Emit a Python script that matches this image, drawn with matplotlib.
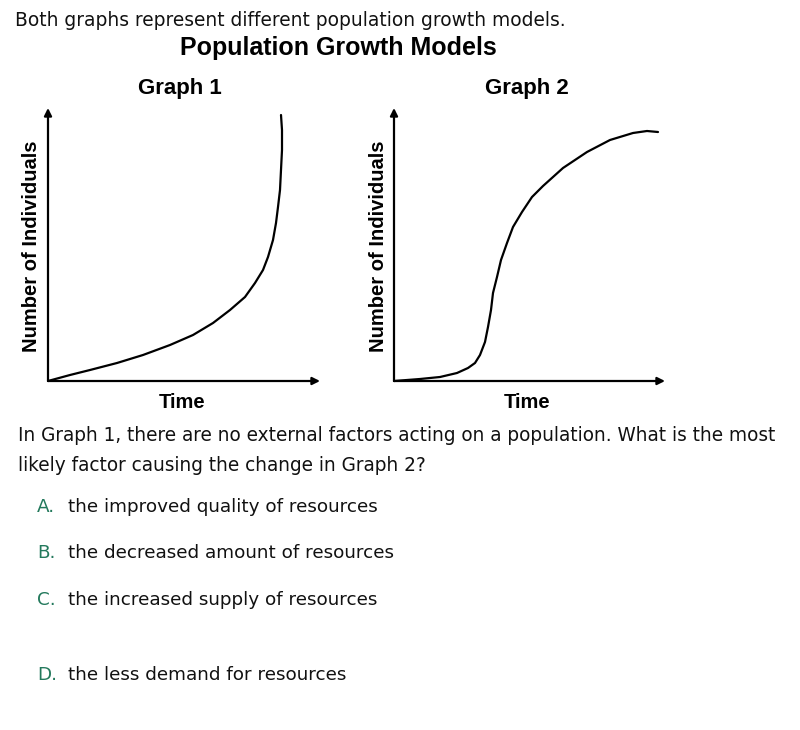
import matplotlib
matplotlib.use("Agg")
import matplotlib.pyplot as plt

# values (time, number of individuals), arbitrary units
g1_time = [0, 22, 42, 69, 95, 122, 145, 165, 182, 197, 207, 215, 220, 225, 228,
           230, 232, 233, 234, 234, 233]
g1_count = [0, 6, 11, 18, 26, 36, 46, 58, 71, 84, 98, 111, 124, 141, 158,
            174, 191, 211, 231, 251, 266]

g2_time = [0, 26, 46, 63, 74, 81, 86, 91, 94, 97, 99, 103, 107, 113, 119, 128,
           138, 149, 169, 193, 216, 239, 253, 264]
g2_count = [0, 2, 4, 8, 13, 18, 26, 39, 54, 71, 88, 104, 121, 138, 154, 169,
            184, 195, 213, 229, 241, 248, 250, 249]

graph_titles = ["Graph 1", "Graph 2"]
x_label = "Time"
y_label = "Number of Individuals"

intro = "Both graphs represent different population growth models."
title = "Population Growth Models"
question = ["In Graph 1, there are no external factors acting on a population. What is the most",
            "likely factor causing the change in Graph 2?"]
letters = ["A.", "B.", "C.", "D."]
answers = ["the improved quality of resources",
           "the decreased amount of resources",
           "the increased supply of resources",
           "the less demand for resources"]

W, H = 800, 730
fig = plt.figure(figsize=(W / 100, H / 100), dpi=100)


def fx(px):
    return px / W


def fy(py):
    return 1 - py / H


def ftext(x, y, s, **kw):
    fig.text(fx(x), fy(y), s, **kw)


bold = dict(family="Liberation Sans", weight="bold", color="black")
body = dict(family="DejaVu Sans", color="#111111")

ftext(15, 26, intro, fontsize=13.4, va="baseline", **body)
ftext(338, 55, title, fontsize=18, ha="center", va="baseline", **bold)

# axes boxes in pixels: left, bottom(y of origin), right, top
boxes = [(48, 381, 320, 108), (394, 381, 665, 108)]
series = [(g1_time, g1_count), (g2_time, g2_count)]
title_x = [180, 527]
ylab_x = [32, 378]

for i, ((l, b, r, t), (xs, ys)) in enumerate(zip(boxes, series)):
    ax = fig.add_axes([fx(l), fy(b), (r - l) / W, (b - t) / H])
    ax.set_xlim(0, r - l)
    ax.set_ylim(0, b - t)
    ax.axis("off")
    ax.plot(xs, ys, color="black", lw=1.6, solid_joinstyle="round",
            solid_capstyle="round", clip_on=False)
    arrow = dict(arrowstyle="-|>", color="black", lw=1.6, mutation_scale=11,
                 shrinkA=0, shrinkB=0)
    ax.annotate("", xy=(1, 0), xytext=(0, 0), xycoords="axes fraction",
                arrowprops=arrow, annotation_clip=False)
    ax.annotate("", xy=(0, 1), xytext=(0, 0), xycoords="axes fraction",
                arrowprops=arrow, annotation_clip=False)
    ftext(title_x[i], 94, graph_titles[i], fontsize=16, ha="center", va="baseline", **bold)
    ftext((l + r) / 2 - 2, 408, x_label, fontsize=14.5, ha="center", va="baseline", **bold)
    ftext(ylab_x[i], 246, y_label, fontsize=14.5, ha="center", va="center",
          rotation=90, **bold)

ftext(18, 441, question[0], fontsize=13.35, va="baseline", **body)
ftext(18, 471, question[1], fontsize=13.35, va="baseline", **body)

opt_y = [512, 558, 605, 680]
for letter, ans, y in zip(letters, answers, opt_y):
    ftext(37, y, letter, fontsize=13.2, va="baseline", family="DejaVu Sans", color="#23795c")
    ftext(68, y, ans, fontsize=13.2, va="baseline", **body)

fig.savefig("out.png", dpi=100, facecolor="white")
